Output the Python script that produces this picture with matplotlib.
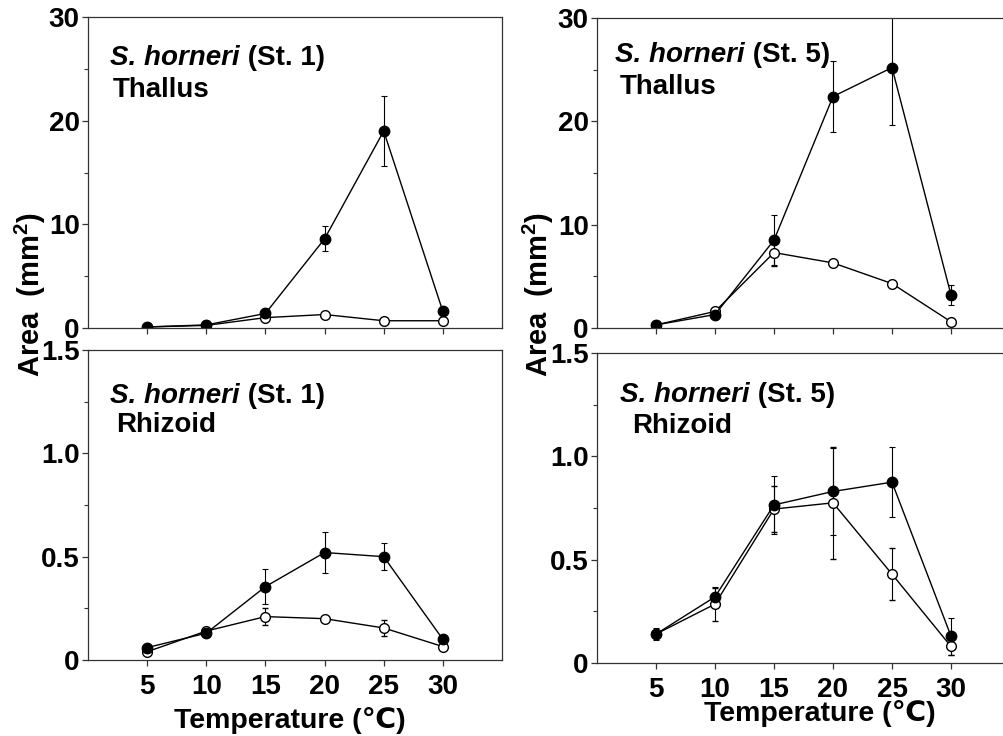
import matplotlib
matplotlib.use("Agg")
from matplotlib import pyplot as plt
from matplotlib.ticker import MultipleLocator

plt.rcParams["font.family"] = ["Liberation Sans", "DejaVu Sans"]
plt.rcParams["font.weight"] = "bold"
plt.rcParams["mathtext.fontset"] = "custom"
plt.rcParams["mathtext.rm"] = "Liberation Sans"
plt.rcParams["mathtext.bf"] = "Liberation Sans:bold"

temps = [5, 10, 15, 20, 25, 30]

# thallus area (mm2), station 1
thal1_filled = [0.1, 0.3, 1.4, 8.6, 19.0, 1.6]
thal1_filled_err = [0, 0, 0, 1.2, 3.4, 0]
thal1_open = [0.1, 0.25, 1.0, 1.3, 0.7, 0.7]
thal1_open_err = [0, 0, 0, 0, 0, 0]

# thallus area (mm2), station 5
thal5_filled = [0.3, 1.3, 8.5, 22.4, 25.2, 3.2]
thal5_filled_err = [0, 0, 2.4, 3.4, 5.6, 1.0]
thal5_open = [0.3, 1.6, 7.3, 6.3, 4.3, 0.6]
thal5_open_err = [0, 0, 1.3, 0, 0, 0]

# rhizoid area (mm2), station 1
rhiz1_filled = [0.06, 0.13, 0.355, 0.52, 0.50, 0.10]
rhiz1_filled_err = [0, 0, 0.085, 0.10, 0.065, 0]
rhiz1_open = [0.04, 0.14, 0.21, 0.20, 0.155, 0.065]
rhiz1_open_err = [0, 0, 0.04, 0, 0.04, 0]

# rhizoid area (mm2), station 5
rhiz5_filled = [0.14, 0.32, 0.765, 0.83, 0.875, 0.13]
rhiz5_filled_err = [0.03, 0.05, 0.14, 0.21, 0.17, 0.09]
rhiz5_open = [0.14, 0.285, 0.745, 0.775, 0.43, 0.08]
rhiz5_open_err = [0, 0.08, 0.11, 0.27, 0.125, 0.04]

thal_ticks = [0, 10, 20, 30]
thal_labels = ["0", "10", "20", "30"]
rhiz_ticks = [0, 0.5, 1.0, 1.5]
rhiz_labels = ["0", "0.5", "1.0", "1.5"]

W, H = 1004, 736
fig = plt.figure(figsize=(W / 100, H / 100), dpi=100)


def px_axes(left, top, right, bottom):
    return fig.add_axes([left / W, 1 - bottom / H, (right - left) / W, (bottom - top) / H])


def px_text(x, y, s, **kw):
    return fig.text(x / W, 1 - y / H, s, va="baseline", **kw)


def draw_panel(ax, filled, filled_err, opened, opened_err, ticks, labels, minor, show_x):
    ax.errorbar(temps, opened, yerr=opened_err, color="black", lw=1.0, elinewidth=0.8,
                capsize=2.5, capthick=0.8, marker="o", ms=7, mfc="white", mec="black", mew=1.0)
    ax.errorbar(temps, filled, yerr=filled_err, color="black", lw=1.0, elinewidth=0.8,
                capsize=2.5, capthick=0.8, marker="o", ms=7.5, mfc="black", mec="black")
    ax.set_xlim(0, 35)
    ax.set_xticks(temps)
    ax.set_yticks(ticks)
    ax.set_yticklabels(labels)
    ax.yaxis.set_minor_locator(MultipleLocator(minor))
    ax.set_ylim(ticks[0], ticks[-1])
    for sp in ax.spines.values():
        sp.set_color("#333333")
        sp.set_linewidth(0.9)
    ax.tick_params(axis="both", which="major", direction="out", length=4, width=0.9,
                   color="#333333", labelsize=20, pad=2)
    ax.tick_params(axis="y", which="minor", direction="out", length=3, width=0.8, color="#333333")
    ax.tick_params(axis="x", pad=6)
    if not show_x:
        ax.set_xticklabels([])
    for lab in ax.get_xticklabels() + ax.get_yticklabels():
        lab.set_fontweight("bold")


def panel_title(x, y, station, part, x2, y2):
    t = px_text(x, y, "S. horneri", fontsize=20, style="italic", fontweight="bold")
    fig.add_artist(plt.Annotation(" (St. %d)" % station, xy=(1, 0), xycoords=t, va="bottom",
                                  fontsize=20, fontweight="bold"))
    px_text(x2, y2, part, fontsize=20, fontweight="bold")


ax1 = px_axes(88, 17, 502, 328)
draw_panel(ax1, thal1_filled, thal1_filled_err, thal1_open, thal1_open_err,
           thal_ticks, thal_labels, 5, False)
ax2 = px_axes(597, 18, 1010, 328)
draw_panel(ax2, thal5_filled, thal5_filled_err, thal5_open, thal5_open_err,
           thal_ticks, thal_labels, 5, False)
ax3 = px_axes(88, 350, 502, 660)
draw_panel(ax3, rhiz1_filled, rhiz1_filled_err, rhiz1_open, rhiz1_open_err,
           rhiz_ticks, rhiz_labels, 0.25, True)
ax4 = px_axes(597, 353, 1010, 663)
draw_panel(ax4, rhiz5_filled, rhiz5_filled_err, rhiz5_open, rhiz5_open_err,
           rhiz_ticks, rhiz_labels, 0.25, True)

panel_title(110, 65, 1, "Thallus", 113, 97)
panel_title(615, 62, 5, "Thallus", 620, 94)
panel_title(110, 403, 1, "Rhizoid", 116, 432)
panel_title(620, 402, 5, "Rhizoid", 632, 433)

ylab = r"Area  (mm$^{\bf 2}$)"
fig.text(30 / W, 1 - 294 / H, ylab, rotation=90, ha="center", va="center", fontsize=21,
         fontweight="bold")
fig.text(538 / W, 1 - 294 / H, ylab, rotation=90, ha="center", va="center", fontsize=21,
         fontweight="bold")

px_text(290, 728, "Temperature (℃)", fontsize=20.5, fontweight="bold", ha="center")
px_text(820, 721, "Temperature (℃)", fontsize=20.5, fontweight="bold", ha="center")

fig.savefig("out.png", dpi=100)
